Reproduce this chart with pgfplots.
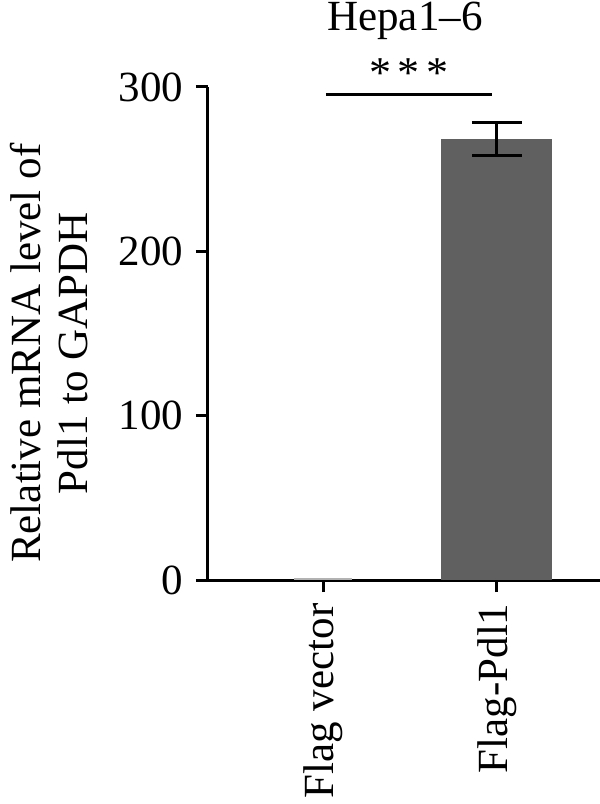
\documentclass[border=0pt]{standalone}
\usepackage{fontspec}
\setmainfont{Liberation Serif}
\usepackage{pgfplots}
\pgfplotsset{compat=1.18}
\definecolor{bardark}{RGB}{96,96,96}
\begin{document}
\begin{tikzpicture}[x=1pt,y=1pt]
\begin{axis}[
  at={(208pt,224pt)}, anchor=south west,
  scale only axis, width=392pt, height=493pt,
  xmin=-0.661, xmax=1.592, ymin=0, ymax=300,
  axis lines=left, axis line style={-, line width=3pt},
  x axis line style={shorten <=-11pt},
  xtick={0,1}, xticklabels={Flag vector, Flag-Pdl1},
  ytick={0,100,200,300},
  tick style={line width=3pt, black},
  major tick length=12pt, tick align=outside,
  every tick label/.append style={font=\fontsize{43}{47}\selectfont},
  /pgf/number format/assume math mode=true,
  yticklabel style={xshift=-9pt},
  xticklabel style={yshift=-8pt, rotate=90, anchor=east},
  ylabel={Relative mRNA level of\\Pdl1 to GAPDH},
  ylabel style={at={(axis description cs:-0.405,0.46)}, anchor=center, align=center, font=\fontsize{43}{47}\selectfont},
  clip=false,
]
\addplot[ybar, bar width=58pt, bar shift=0pt, fill=gray!60, draw=none] coordinates {(0,1)};
\addplot[ybar, bar width=111pt, bar shift=0pt, fill=bardark, draw=none,
  error bars/.cd, y dir=both, y explicit,
  error bar style={line width=3pt, black},
  error mark options={rotate=90, mark size=25pt, line width=3pt, black}]
  coordinates {(1,268.4) +- (0,9.8)};
\draw[line width=3pt] (axis cs:0.017,295.7) -- (axis cs:0.971,295.7);
\node[font=\fontsize{44}{47}\selectfont, anchor=base, inner sep=0pt] at (axis cs:0.494,299.5) {*\hspace{0.14em}*\hspace{0.14em}*};
\node[font=\fontsize{43}{47}\selectfont, anchor=base, inner sep=0pt] at (axis cs:0.471,334.2) {Hepa1–6};
\end{axis}
\pgfresetboundingbox
\path (0,0) rectangle (600pt,804pt);
\end{tikzpicture}
\end{document}
